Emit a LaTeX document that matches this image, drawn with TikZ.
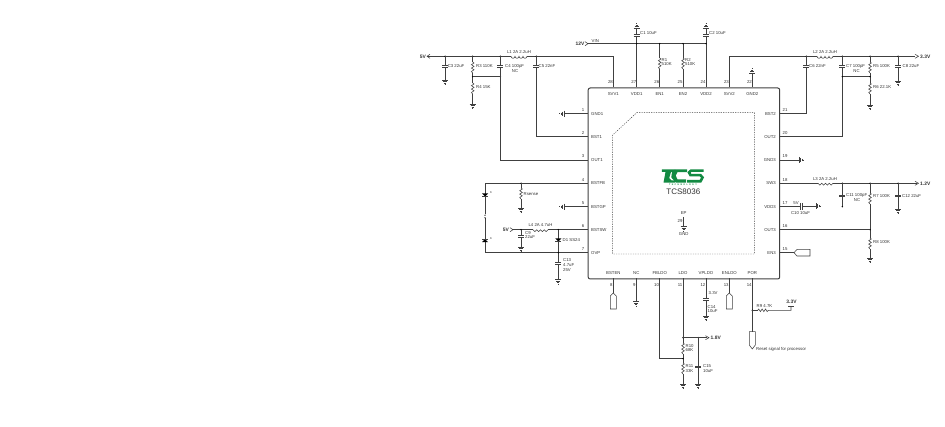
\documentclass[tikz,border=0pt]{standalone}
\usepackage{fontspec}
\setmainfont{Liberation Sans}
\definecolor{wire}{HTML}{404040}
\definecolor{txt}{HTML}{333333}
\definecolor{logogreen}{HTML}{128A42}
\tikzset{
  lbl/.style={font=\fontsize{4.3}{4.6}\selectfont,text=txt,inner sep=0pt,align=left},
  big/.style={font=\fontsize{4.9}{5}\selectfont\bfseries,text=txt,inner sep=0pt},
  wirep/.style={draw=wire,line width=0.55pt},
  dot/.style={circle,fill=black,inner sep=0pt,minimum size=1.7pt,draw=none},
  chip/.style={draw=wire,line width=1pt,rounded corners=2pt},
  dashbox/.style={draw=wire,line width=0.45pt,dash pattern=on 1.2pt off 1.2pt},
}
\newcommand{\Rv}[3]{\draw[wirep] (#1,#2) -- ++(1.3,1) -- ++(-2.6,1.7) -- ++(2.6,1.7) -- ++(-2.6,1.7) -- ++(2.6,1.7) -- ++(-2.6,1.7) -- (#1,#3);}
\newcommand{\Lh}[3]{\fill[white] (#1,#3-0.5) rectangle (#2,#3+0.5);
  \draw[wirep] (#1,#3) foreach \k in {0,1,2,3} {arc[start angle=180,end angle=0,radius={(#2-#1)/8}]};}
\newcommand{\Cv}[2]{\fill[white] (#1-3,#2-0.9) rectangle (#1+3,#2+0.9);
  \draw[wirep] (#1-3,#2-0.9) -- (#1+3,#2-0.9) (#1-3,#2+0.9) -- (#1+3,#2+0.9);}
\newcommand{\Gd}[2]{\draw[wirep] (#1-3,#2) -- (#1+3,#2) (#1-2,#2+1.5) -- (#1+2,#2+1.5) (#1-1.1,#2+3) -- (#1+1.1,#2+3) (#1-0.4,#2+4.3) -- (#1+0.4,#2+4.3);}
\newcommand{\Gu}[2]{\draw[wirep] (#1-3,#2) -- (#1+3,#2) (#1-2,#2-1.5) -- (#1+2,#2-1.5) (#1-1.1,#2-3) -- (#1+1.1,#2-3) (#1-0.4,#2-4.3) -- (#1+0.4,#2-4.3);}
\newcommand{\Gl}[2]{\draw[wirep] (#1,#2-3) -- (#1,#2+3) (#1-1.5,#2-2) -- (#1-1.5,#2+2) (#1-3,#2-1.1) -- (#1-3,#2+1.1) (#1-4.3,#2-0.4) -- (#1-4.3,#2+0.4);}
\newcommand{\Gr}[2]{\draw[wirep] (#1,#2-3) -- (#1,#2+3) (#1+1.5,#2-2) -- (#1+1.5,#2+2) (#1+3,#2-1.1) -- (#1+3,#2+1.1) (#1+4.3,#2-0.4) -- (#1+4.3,#2+0.4);}
\newcommand{\Dd}[2]{\fill[black] (#1,#2+1.5) -- (#1-3,#2-1.5) -- (#1+3,#2-1.5) -- cycle;
  \draw[wirep] (#1-3,#2+1.5) -- (#1+3,#2+1.5);}
\newcommand{\Du}[2]{\fill[black] (#1,#2-1.5) -- (#1-3,#2+1.5) -- (#1+3,#2+1.5) -- cycle;
  \draw[wirep] (#1-3,#2-1.5) -- (#1+3,#2-1.5);}
\newcommand{\Tv}[2]{\draw[wirep,fill=white] (#1-3,#2+3) -- (#1-3,#2+16) -- (#1+3,#2+16) -- (#1+3,#2+3) -- (#1,#2) -- cycle;}
\begin{document}
\begin{tikzpicture}[x=1pt,y=-1pt]
\useasboundingbox[fill=white] (0,0) rectangle (945,427);
\node[chip,minimum width=191.5pt,minimum height=191pt,anchor=north west,inner sep=0pt] (ic) at (587.7,87.5) {};
\draw[dashbox] (636.7,112.7) -- (754.3,112.7) -- (754.3,254) -- (612.7,254) -- (612.7,135) -- cycle;
\coordinate (v0) at (587,43.7);
\draw[wirep] (v0) -- (706,43.7);
\draw[wirep] (427,56.3) -- (613.3,56.3) -- (613.3,87.5);
\draw[wirep] (729.3,87.5) -- (729.3,56.3) -- (915,56.3);
\draw[wirep] (636.7,28) -- (636.7,87.5);
\draw[wirep] (706,28) -- (706,87.5);
\draw[wirep] (659.7,43.7) -- (659.7,58);
\draw[wirep] (659.7,69) -- (659.7,87.5);
\draw[wirep] (683,43.7) -- (683,58);
\draw[wirep] (683,69) -- (683,87.5);
\Rv{659.7}{58}{69} \Rv{683}{58}{69}
\draw[wirep] (752.3,73) -- (752.3,87.5);
\Gu{752.3}{73}
\Cv{636.7}{35} \Cv{706}{35}
\Gu{636.7}{28} \Gu{706}{28}
\foreach \x in {636.7,659.7,683,706} \fill (\x,43.7) circle (0.8);
\draw[wirep] (585,41.7) -- (588,43.7) -- (585,45.7);
\node[big,anchor=east] (t12) at (584.5,43.9) {12V};
\node[lbl,anchor=west] (tvin) at (591.5,41.5) {VIN};
\draw[wirep] (430,54.3) -- (427,56.3) -- (430,58.3);
\node[big,anchor=east] (t5) at (426,56.4) {5V};
\Lh{511}{527}{56.3}
\foreach \x in {445,472.7,500.3,536.3} \fill (\x,56.3) circle (0.8);
\draw[wirep] (445,56.3) -- (445,80); \Cv{445}{66} \Gd{445}{80}
\draw[wirep] (472.7,56.3) -- (472.7,62); \Rv{472.7}{62}{73}
\draw[wirep] (472.7,73) -- (472.7,83); \Rv{472.7}{83}{94}
\draw[wirep] (472.7,94) -- (472.7,104); \Gd{472.7}{104}
\fill (472.7,76.7) circle (0.8); \fill (500.3,76.7) circle (0.8);
\draw[wirep] (472.7,76.7) -- (500.3,76.7);
\draw[wirep] (500.3,56.3) -- (500.3,160) -- (587.7,160); \Cv{500.3}{66}
\draw[wirep] (536.3,56.3) -- (536.3,136.7) -- (587.7,136.7); \Cv{536.3}{66}
\node[lbl,anchor=west] at (447.6,66.3) {C3 22uF};
\node[lbl,anchor=west] at (476,66.3) {R3 110K};
\node[lbl,anchor=west] at (476,87.5) {R4 15K};
\node[lbl,anchor=west] at (505,66.3) {C4 100pF};
\node[lbl] at (515,70.8) {NC};
\node[lbl,anchor=west] at (538.5,66.3) {C5 22nF};
\node[lbl] at (519,51.8) {L1 2A 2.2uH};
\node[lbl,anchor=west] at (640,33) {C1 10uF};
\node[lbl,anchor=west] at (709,33) {C2 10uF};
\node[lbl,anchor=west] at (661.5,62) {R1\\510K};
\node[lbl,anchor=west] at (685,62) {R2\\510K};
\Lh{817}{833}{56.3}
\foreach \x in {806.3,842.3,870,898} \fill (\x,56.3) circle (0.8);
\draw[wirep] (806.3,56.3) -- (806.3,113.7) -- (779,113.7); \Cv{806.3}{66}
\draw[wirep] (842.3,56.3) -- (842.3,136.7) -- (779,136.7); \Cv{842.3}{66}
\draw[wirep] (870,56.3) -- (870,62); \Rv{870}{62}{73}
\draw[wirep] (870,73) -- (870,83); \Rv{870}{83}{94}
\draw[wirep] (870,94) -- (870,105); \Gd{870}{105}
\draw[wirep] (842.3,76.7) -- (870,76.7);
\fill (842.3,76.7) circle (0.8); \fill (870,76.7) circle (0.8);
\draw[wirep] (898,56.3) -- (898,81); \Cv{898}{66} \Gd{898}{81}
\draw[wirep] (915,54.3) -- (918.5,56.3) -- (915,58.3);
\node[big,anchor=west] at (920,56.4) {3.3V};
\node[lbl] at (825,51.8) {L2 2A 2.2uH};
\node[lbl,anchor=west] at (809,66.3) {C6 22nF};
\node[lbl,anchor=west] at (846,66.3) {C7 100pF};
\node[lbl] at (856.5,70.8) {NC};
\node[lbl,anchor=west] at (873,66.3) {R5 100K};
\node[lbl,anchor=west] at (873,87.5) {R6 22.1K};
\node[lbl,anchor=west] at (902.5,66.3) {C8 22uF};
\foreach \x/\n/\t in {613.3/28/SVV1,636.7/27/VDD1,659.7/26/EN1,683/25/EN2,706/24/VDD2,729.3/23/SVV2,752.3/22/GND2}{
  \node[lbl,anchor=east] at (\x-0.3,82) {\n};
  \node[lbl] at (\x,94) {\t};
}
\foreach \x/\n/\t in {613.3/8/BSTEN,636.3/9/NC,659.7/10/FBLDO,683/11/LDO,706/12/VPLDO,729.3/13/ENLDO,752.3/14/POR}{
  \node[lbl,anchor=east] at (\x-0.5,284.7) {\n};
  \node[lbl] at (\x,273) {\t};
}
\foreach \y/\n/\t in {113.7/1/GND1,136.7/2/BST1,160/3/OUT1,183.3/4/BSTFB,206.7/5/BSTGP,229.7/6/BSTSW,252.7/7/OVP}{
  \node[lbl,anchor=east] at (584.5,\y-3.5) {\n};
  \node[lbl,anchor=west] at (591,\y) {\t};
}
\foreach \y/\n/\t in {113.7/21/BST2,136.7/20/OUT2,160/19/GND3,183.3/18/SW3,206.7/17/VDD3,229.7/16/OUT3,252.7/15/EN3}{
  \node[lbl,anchor=west] at (782.5,\y-3.5) {\n};
  \node[lbl,anchor=east] at (776,\y) {\t};
}
\draw[wirep] (564,113.7) -- (587.7,113.7); \Gl{564}{113.7}
\draw[wirep] (564,206.7) -- (587.7,206.7); \Gl{564}{206.7}
\draw[wirep] (587.7,183.3) -- (485,183.3) -- (485,214.5);
\draw[wirep] (485,218.5) -- (485,252.7) -- (587.7,252.7);
\fill (485,215.2) circle (0.7); \fill (485,217.8) circle (0.7);
\Dd{485}{195} \Du{485}{240.7}
\node[lbl] at (491,192.7) {\fontsize{2.8}{3}\selectfont K};
\node[lbl] at (491,238.5) {\fontsize{2.8}{3}\selectfont K};
\fill (521,183.3) circle (0.8);
\draw[wirep] (521,183.3) -- (521,188); \Rv{521}{188}{199}
\draw[wirep] (521,199) -- (521,208); \Gd{521}{208}
\node[lbl,anchor=west] at (523.5,194) {Rsense};
\draw[wirep] (510,227.7) -- (513,229.7) -- (510,231.7);
\node[big,anchor=east] at (509,229.8) {5V};
\draw[wirep] (513,229.7) -- (587.7,229.7);
\Lh{533}{548}{229.7}
\fill (521,229.7) circle (0.8); \fill (558.3,229.7) circle (0.8);
\draw[wirep] (521,229.7) -- (521,247); \Cv{521}{236} \Gd{521}{247}
\node[lbl] at (540.5,225.5) {L4 2A 4.7uH};
\node[lbl,anchor=west] at (525,235) {C9\\22uF};
\draw[wirep] (558.3,229.7) -- (558.3,280); \Dd{558.3}{240}
\fill (558.3,252.7) circle (0.8);
\Cv{558.3}{263} \Gd{558.3}{279.5}
\node[lbl,anchor=west] at (562.5,240.5) {D1 SS24};
\node[lbl,anchor=west] at (563,265) {C13\\4.7uF\\25V};
\draw[wirep] (779,160) -- (799,160); \Gr{799}{160}
\draw[wirep] (779,183.3) -- (917,183.3);
\Lh{818}{833}{183.3}
\fill (842.3,183.3) circle (0.8); \fill (870,183.3) circle (0.8); \fill (898,183.3) circle (0.8);
\draw[wirep] (842.3,183.3) -- (842.3,206.7); \Cv{842.3}{195.7} \fill (842.3,206.7) circle (0.8);
\node[lbl,anchor=west] at (846,195.7) {C11 100pF};
\node[lbl] at (857,200) {NC};
\draw[wirep] (870,183.3) -- (870,193); \Rv{870}{193}{204}
\draw[wirep] (870,204) -- (870,238); \Rv{870}{238}{249}
\draw[wirep] (870,249) -- (870,258); \Gd{870}{258}
\fill (870,229.7) circle (0.8);
\draw[wirep] (779,229.7) -- (870,229.7);
\node[lbl,anchor=west] at (873,195.7) {R7 100K};
\node[lbl,anchor=west] at (873,242.5) {R8 100K};
\draw[wirep] (898,183.3) -- (898,209); \Cv{898}{195.7} \Gd{898}{209}
\node[lbl,anchor=west] at (902,195.7) {C12 22uF};
\draw[wirep] (915,181.3) -- (918.5,183.3) -- (915,185.3);
\node[big,anchor=west] at (920,183.4) {1.2V};
\node[lbl] at (825,179) {L3 2A 2.2uH};
\draw[wirep] (779,206.3) -- (800.3,206.3);
\draw[wirep] (800.3,203) -- (800.3,210) (802.6,203) -- (802.6,210);
\draw[wirep] (802.6,206.3) -- (816,206.3); \Gr{816}{206.3}
\node[lbl] at (796,203) {5V};
\node[lbl] at (800.5,212.7) {C10 10uF};
\draw[wirep] (779,252.7) -- (794,252.7);
\draw[wirep] (794,252.7) -- (797,249.4) -- (810,249.4) -- (810,256) -- (797,256) -- cycle;
\draw[wirep] (613.3,278.5) -- (613.3,293); \Tv{613.3}{293}
\draw[wirep] (636.3,278.5) -- (636.3,301.5); \Gd{636.3}{301.5}
\draw[wirep] (659.7,278.5) -- (659.7,358.7) -- (683,358.7);
\draw[wirep] (683,278.5) -- (683,343); \Rv{683}{343}{354}
\draw[wirep] (683,354) -- (683,363); \Rv{683}{363}{374}
\draw[wirep] (683,374) -- (683,384); \Gd{683}{384}
\fill (683,337.7) circle (0.8); \fill (683,358.7) circle (0.8); \fill (698.3,337.7) circle (0.8);
\draw[wirep] (683,337.7) -- (707,337.7);
\draw[wirep] (705.5,335.7) -- (709,337.7) -- (705.5,339.7);
\node[big,anchor=west] at (710.5,337.8) {1.8V};
\draw[wirep] (698.3,337.7) -- (698.3,384); \Cv{698.3}{366.7} \Gd{698.3}{384}
\node[lbl,anchor=west] at (685.5,348) {R10\\68K};
\node[lbl,anchor=west] at (685.5,368.5) {R11\\33K};
\node[lbl,anchor=west] at (703,368.5) {C15\\10uF};
\draw[wirep] (706,278.5) -- (706,316); \Cv{706}{299.3} \Gd{706}{316}
\node[lbl,anchor=west] at (708.5,293) {3.3V};
\node[lbl,anchor=west] at (707.5,309) {C14\\10uF};
\draw[wirep] (729.3,278.5) -- (729.3,293); \Tv{729.3}{293}
\draw[wirep] (752.3,278.5) -- (752.3,331.7);
\fill (752.3,310.3) circle (0.8);
\draw[wirep] (752.3,310.3) -- (757.7,310.3);
\draw[wirep] (757.7,310.3) -- (758.7,309) -- (760.4,311.6) -- (762.1,309) -- (763.8,311.6) -- (765.5,309) -- (767.2,311.6) -- (768.3,310.3) -- (791,310.3) -- (791,306.7);
\draw[wirep] (788,306.7) -- (794,306.7);
\node[big,anchor=base] at (791.5,303.5) {3.3V};
\node[lbl] at (764.5,305.7) {R9 4.7K};
\draw[wirep] (749.3,331.7) -- (755.3,331.7) -- (755.3,345) -- (752.3,349) -- (749.3,345) -- cycle;
\node[lbl,anchor=west] at (756,349.7) {Reset signal for processor};
% logo
\fill[logogreen] (661.8,169.3) -- (675,169.3) -- (675,172) -- (671,172) -- (669.2,178) -- (671.5,180.5) -- (675,180.5) -- (675,182.7) -- (663.5,182.7) -- (665.5,172) -- (661.8,172) -- cycle;
\fill[logogreen] (672,172) -- (675.5,169.3) -- (687,169.3) -- (687,172.2) -- (677.5,172.2) -- (675.7,175.5) -- (677.5,179.5) -- (686,179.5) -- (686,182.7) -- (676,182.7) -- (671.3,177.5) -- cycle;
\draw[logogreen,line width=2.6pt] (703.5,170.6) -- (691,170.6) -- (689,172.5) -- (690.5,175.2) -- (700.5,175.2) -- (702.5,177.5) -- (700.5,181.3) -- (687,181.3);
\node[font=\addfontfeatures{LetterSpace=55}\fontsize{2.3}{3}\selectfont\bfseries,text=logogreen,inner sep=0pt] at (683,185) {TECHNOLOGY};
\node[font=\fontsize{8}{8}\selectfont,text=txt,inner sep=0pt] at (683.3,191.9) {TCS8036};
\node[lbl] at (683.7,213) {EP};
\node[lbl] at (680,221) {29};
\draw[wirep] (683.7,217) -- (683.7,226.7); \Gd{683.7}{226.7}
\node[lbl] at (683.7,234.2) {GND};
\end{tikzpicture}
\end{document}
